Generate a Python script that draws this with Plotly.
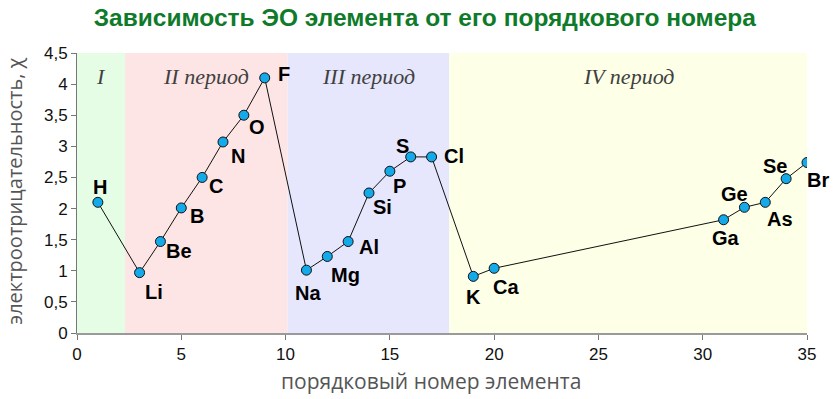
import plotly.graph_objects as go

# ---- data ----
atomic_numbers = [1, 3, 4, 5, 6, 7, 8, 9, 11, 12, 13, 14, 15, 16, 17, 19, 20, 31, 32, 33, 34, 35]
electronegativity = [2.1, 0.97, 1.47, 2.01, 2.5, 3.07, 3.5, 4.1, 1.01, 1.23, 1.47, 2.25, 2.6, 2.83, 2.83,
                     0.91, 1.04, 1.82, 2.02, 2.1, 2.48, 2.74]
symbols = ["H", "Li", "Be", "B", "C", "N", "O", "F", "Na", "Mg", "Al", "Si", "P", "S", "Cl",
           "K", "Ca", "Ga", "Ge", "As", "Se", "Br"]
period_names = ["I", "II период", "III период", "IV период"]
period_starts = [0, 2.3, 10.1, 17.85]
period_ends = [2.3, 10.1, 17.85, 35]
x_title = "порядковый номер элемента"
y_title = "электроотрицательность, χ"

# ---- styles ----
band_colors = ["#E5FDE5", "#FEE5E5", "#E6E6FC", "#FDFFE6"]
label_offsets = {  # pixel offsets (dx right, dy down) of element labels
    "H": (2, -15), "Li": (14, 19), "Be": (19, 9), "B": (16, 8), "C": (14, 9), "N": (15, 14),
    "O": (13, 12), "F": (19, -4), "Na": (2, 23), "Mg": (18, 19), "Al": (21, 5), "Si": (13, 14),
    "P": (10, 15), "S": (-8, -11), "Cl": (22, -1), "K": (0, 21), "Ca": (12, 19), "Ga": (2, 18),
    "Ge": (-10, -13), "As": (15, 17), "Se": (-11, -13), "Br": (11, 17),
}
period_label_y = 4.13

fig = go.Figure()

fig.add_trace(go.Scatter(
    x=atomic_numbers, y=electronegativity, mode="lines+markers",
    line=dict(color="#111111", width=1),
    marker=dict(size=10, color="#14A9E8", line=dict(color="#111111", width=1)),
    hoverinfo="skip", showlegend=False,
))

shapes = []
annotations = []
for x0, x1, c, name in zip(period_starts, period_ends, band_colors, period_names):
    shapes.append(dict(type="rect", xref="x", yref="y", x0=x0, x1=x1, y0=0, y1=4.5,
                       fillcolor=c, line=dict(width=0), layer="below"))
    annotations.append(dict(x=(x0 + x1) / 2, y=period_label_y, xref="x", yref="y",
                            text="<i>" + name + "</i>", showarrow=False,
                            font=dict(family="Liberation Serif", size=22, color="#404040")))

for xv, yv, s in zip(atomic_numbers, electronegativity, symbols):
    dx, dy = label_offsets[s]
    annotations.append(dict(x=xv, y=yv, xref="x", yref="y", text="<b>" + s + "</b>",
                            showarrow=False, xshift=dx, yshift=-dy,
                            font=dict(family="Liberation Sans", size=20, color="#000000")))

# axis titles as annotations (positioned like the reference)
annotations.append(dict(x=0.485, y=-0.17, xref="paper", yref="paper", text=x_title,
                        showarrow=False, xanchor="center", yanchor="middle",
                        font=dict(family="Open Sans", size=21, color="#555555")))
annotations.append(dict(x=-0.085, y=0.508, xref="paper", yref="paper", text=y_title,
                        showarrow=False, xanchor="center", yanchor="middle", textangle=-90,
                        font=dict(family="Open Sans", size=20, color="#555555")))

fig.update_layout(
    width=838, height=399,
    margin=dict(l=77, r=31, t=53, b=66),
    paper_bgcolor="white", plot_bgcolor="white",
    separators=", ",
    title=dict(text="<b>Зависимость ЭО элемента от его порядкового номера</b>",
               x=0.507, xanchor="center", y=0.957, yanchor="middle",
               font=dict(family="Liberation Sans", size=24.5, color="#0E7A2A")),
    shapes=shapes, annotations=annotations,
    xaxis=dict(range=[0, 35], dtick=5, tick0=0, showgrid=False, zeroline=False,
               showline=True, linecolor="#9A9A9A", linewidth=2,
               ticks="outside", ticklen=5, tickcolor="#777777",
               tickfont=dict(family="Liberation Sans", size=17, color="#111111")),
    yaxis=dict(range=[0, 4.5], dtick=0.5, tick0=0, showgrid=False, zeroline=False,
               showline=True, linecolor="#777777", linewidth=1,
               ticks="outside", ticklen=5, tickcolor="#777777",
               tickfont=dict(family="Liberation Sans", size=17, color="#111111")),
)

fig.write_html("out.html")
